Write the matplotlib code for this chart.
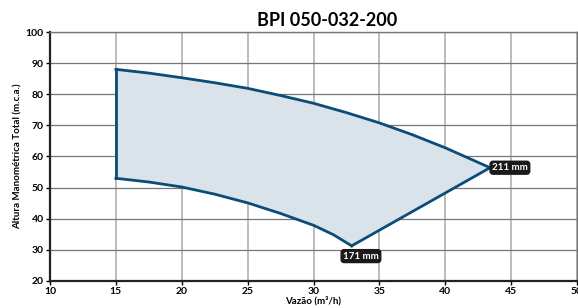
import numpy as np
import matplotlib
matplotlib.use("Agg")
import matplotlib.pyplot as plt

plt.rcParams["font.family"] = ["Lato", "DejaVu Sans"]

# curva superior (211 mm) e inferior (171 mm)
top_q = [15.0, 17.5, 20.0, 22.5, 25.0, 27.5, 30.0, 32.5, 35.0, 37.5, 40.0, 43.4]
top_h = [88.0, 86.8, 85.3, 83.7, 81.9, 79.6, 77.1, 74.1, 70.8, 67.0, 62.8, 56.4]
bot_q = [15.0, 17.5, 20.0, 22.5, 25.0, 27.5, 30.0, 31.5, 32.9]
bot_h = [53.0, 51.8, 50.2, 47.9, 45.1, 41.7, 37.9, 34.9, 31.3]
label_top = "211 mm"
label_bot = "171 mm"

LINE = "#0b4c78"
FILL = "#dae3ea"

fig = plt.figure(figsize=(5.78, 3.08), dpi=100)
ax = fig.add_axes([50/578, 27/308, 527/578, 249/308])

xs = bot_q + top_q[::-1]
ys = bot_h + top_h[::-1]
ax.fill(xs, ys, fc=FILL, ec="none", zorder=2)
ax.plot(top_q, top_h, color=LINE, lw=2, zorder=3, solid_joinstyle="round")
ax.plot(bot_q, bot_h, color=LINE, lw=2, zorder=3, solid_joinstyle="round")
ax.plot([bot_q[0], top_q[0]], [bot_h[0], top_h[0]], color=LINE, lw=2, zorder=3)
ax.plot([bot_q[-1], top_q[-1]], [bot_h[-1], top_h[-1]], color=LINE, lw=2, zorder=3)

box = dict(boxstyle="round,pad=0.2,rounding_size=0.3", fc="#1a1a1a", ec="#1a1a1a")
ax.text(top_q[-1] + 0.15, top_h[-1], label_top, color="white", fontsize=7, fontweight="bold",
        ha="left", va="center", bbox=box, zorder=5)
ax.text(bot_q[-1] + 0.7, bot_h[-1] - 3.3, label_bot, color="white", fontsize=7, fontweight="bold",
        ha="center", va="center", bbox=box, zorder=5)

ax.set_xlim(10, 50)
ax.set_ylim(20, 100)
ax.set_xticks(np.arange(10, 51, 5))
ax.set_yticks(np.arange(20, 101, 10))
ax.grid(axis="x", color="#b0b0b0", lw=1.2, zorder=1)
ax.grid(axis="y", color="#777777", lw=0.9, zorder=1)
ax.set_axisbelow(True)
for s in ["top", "right"]:
    ax.spines[s].set_color("#777777")
    ax.spines[s].set_linewidth(1)
for s in ["left", "bottom"]:
    ax.spines[s].set_color("#222222")
    ax.spines[s].set_linewidth(1.6)
ax.tick_params(labelsize=7.5, length=3, width=1, pad=1.5)
for t in ax.get_xticklabels() + ax.get_yticklabels():
    t.set_fontweight("bold")

ax.set_xlabel("Vazão (m³/h)", fontsize=7, fontweight="bold", labelpad=0)
ax.set_ylabel("Altura Manométrica Total (m.c.a.)", fontsize=7, fontweight="bold", labelpad=2)
fig.text(0.566, 0.935, "BPI 050-032-200", fontsize=13, fontweight="bold", ha="center", va="center")

fig.savefig("out.png", dpi=100)
